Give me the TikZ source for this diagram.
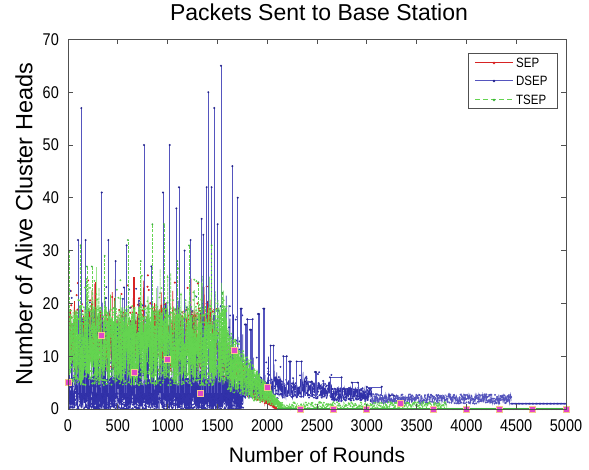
\documentclass[tikz,border=0pt]{standalone}
\usepackage{fontspec}
\usetikzlibrary{calc}
\setmainfont{Liberation Sans}
\newfontfamily\tickfont[FakeStretch=0.85]{Liberation Sans}
\definecolor{redc}{RGB}{215,35,35}
\definecolor{bluec}{RGB}{85,85,190}
\definecolor{blueband}{RGB}{50,50,170}
\definecolor{bluedot}{RGB}{35,35,140}
\definecolor{greenc}{RGB}{100,212,80}
\definecolor{greendot}{RGB}{60,175,60}
\definecolor{sqfill}{RGB}{225,70,200}
\definecolor{sqedge}{RGB}{245,200,140}
\definecolor{axisc}{RGB}{80,80,80}
\begin{document}
\begin{tikzpicture}[x=1pt,y=1pt,
  declare function={
    redf(\x)=(\x<1500)?(7+12*rnd+(rnd<0.15)*rnd*7):((\x<2100)?((2100-\x)/600*(5+10*rnd)):0);
    bluea(\x)=6*rnd^1.3+(rnd<0.15)*(4+14*rnd^1.5);
    blueb(\x)=(\x<2150)?(2+4*rnd+(rnd<0.2)*5*rnd):((\x<2650)?(2+3*rnd+(rnd<0.15)*3*rnd):(1.5+2.5*rnd));
    bluec(\x)=1+1.8*rnd;
    greena(\x)=(\x<1600)?(4.5+15*rnd^1.1+(rnd<0.12)*rnd*8):((2150-\x)/550*(3+12*rnd)+0.8*rnd);
    greenb(\x)=(\x<3800)?(1.3*rnd):0;
  },
  redline/.style={draw=redc,line width=0.6pt},
  blueline/.style={draw=bluec,line width=0.6pt},
  bandline/.style={draw=blueband,line width=0.6pt},
  greenline/.style={draw=greenc,line width=0.6pt,dash pattern=on 3pt off 1.2pt},
  axisline/.style={draw=axisc,line width=0.8pt},
  ticklab/.style={font=\tickfont\fontsize{17}{17}\selectfont,inner sep=0pt},
  labfont/.style={font=\fontsize{21}{21}\selectfont,inner sep=0pt},
  legfont/.style={font=\tickfont\fontsize{13.5}{13.5}\selectfont,inner sep=0pt,anchor=west},
  sqmark/.style={fill=sqfill,draw=sqedge,line width=0.9pt}
]
\useasboundingbox (0,0) rectangle (589,470);
\fill[white] (0,0) rectangle (589,470);
\pgfmathsetseed{4242}
% data
\begin{scope}[shift={(68,61)},x=0.0996pt,y=5.28pt]
  \clip (0,-0.3) rectangle (5000,70);
  % SEP
  \draw[redline] plot[domain=0:2100,samples=700,mark=*,mark size=0.7pt,mark options={draw=none,fill=redc}] (\x,{redf(\x)});
  \draw[redline] (2100,0) -- (5000,0);
  \foreach \r/\v in {67/20.4,240/20,278/24,468/21,663/25,870/20,975/20}{
    \draw[redline,line width=1.4pt] (\r,12) -- (\r,\v);
  }
  % DSEP
  \draw[bandline] plot[domain=0:1760,samples=1400,mark=*,mark size=0.6pt,mark options={draw=none,fill=bluedot}] (\x,{bluea(\x)});
  \draw[bandline] plot[domain=1760:3050,samples=450,mark=*,mark size=0.6pt,mark options={draw=none,fill=bluedot}] (\x,{blueb(\x)});
  \draw[blueline] plot[domain=3050:4450,samples=260,mark=*,mark size=0.6pt,mark options={draw=none,fill=bluedot}] (\x,{bluec(\x)});
  \draw[bandline] plot[domain=4450:5000,samples=40,mark=*,mark size=0.6pt,mark options={draw=none,fill=bluedot}] (\x,1);
  \foreach \r/\v in {100/32,134/57,177/32,338/41,405/32,478/28,562/23,589/31,763/50,837/27,954/41,1021/50,1088/38,1114/42,1171/30,1231/32,1342/36,1359/33,1392/42,1409/60,1442/42,1469/57,1503/35,1536/65,1650/46,1704/40}{
    \draw[blueline] (\r,3) -- (\r,\v);
    \fill[bluedot] (\r,\v) circle[radius=1.1pt];
  }
  \foreach \r/\v/\w in {1734/19/10,1777/16/10,1800/17/54,1827/15/10,1908/18/10,1961/19/10,2035/12/30,2162/10/34,2222/9/15,2296/9/50,2380/5.2/67,2480/7/10,2630/6/117,2850/5/60,3000/4.2/150,3233/2.5/40}{
    \draw[blueline] (\r,2.5) |- (\r+\w,\v) -- (\r+\w,2.5);
    \fill[bluedot] (\r,\v) circle[radius=1.1pt] (\r+\w,\v) circle[radius=1.1pt];
  }
  % TSEP
  \draw[greenline] plot[domain=0:2150,samples=1700,mark=*,mark size=0.6pt,mark options={solid,draw=none,fill=greendot}] (\x,{greena(\x)});
  \draw[greenline] plot[domain=2150:5000,samples=300,mark=*,mark size=0.6pt,mark options={solid,draw=none,fill=greendot}] (\x,{greenb(\x)});
  \draw[draw=greendot,line width=1pt] (2100,0) -- (5000,0);
  \foreach \r/\v in {10/30,127/31,190/27,240/27,368/29,602/32,730/28,847/35,964/35,1097/28,1215/31,1310/24,1442/31,1550/22}{
    \draw[greenline] (\r,8) -- (\r,\v);
    \fill[greendot] (\r,\v) circle[radius=1pt];
  }
\end{scope}
\begin{scope}[shift={(68,61)},x=0.0996pt,y=5.28pt]
  \foreach \r/\v in {0/5,333/14,667/7,1000/9.3,1333/3,1667/11,2000/4,2333/0,2667/0,3000/0,3333/1.1,3667/0,4000/0,4333/0,4667/0,5000/0}{
    \filldraw[sqmark] (\r,\v) ++(-3pt,-3pt) rectangle ++(6pt,6pt);
  }
\end{scope}
% axes
\draw[axisline] (68,61) rectangle (566,430.6);
\foreach \i in {0,...,10}{
  \pgfmathsetmacro{\X}{68+49.8*\i}
  \pgfmathtruncatemacro{\lab}{500*\i}
  \draw[axisline] (\X,61) -- ++(0,5);
  \draw[axisline] (\X,430.6) -- ++(0,-5);
  \node[ticklab] (xt\i) at (\X,44) {\lab};
}
\foreach \i in {0,...,7}{
  \pgfmathsetmacro{\Y}{61+52.8*\i}
  \pgfmathtruncatemacro{\lab}{10*\i}
  \draw[axisline] (68,\Y) -- ++(5,0);
  \draw[axisline] (566,\Y) -- ++(-5,0);
  \node[ticklab,anchor=east] (yt\i) at (59,\Y) {\lab};
}
% labels
\node[labfont,font=\fontsize{23}{23}\selectfont] (title) at (319,458) {Packets Sent to Base Station};
\node[labfont] (xlabel) at (317,15) {Number of Rounds};
\node[labfont,font=\fontsize{23.5}{23.5}\selectfont,rotate=90] (ylabel) at (24,246) {Number of Alive Cluster Heads};
% legend
\draw[axisline,fill=white] (468,362) rectangle (557,417);
\coordinate (l1a) at (475,407); \coordinate (l1b) at (513,407);
\coordinate (l2a) at (475,389); \coordinate (l2b) at (513,389);
\coordinate (l3a) at (475,370); \coordinate (l3b) at (513,370);
\draw[redline,line width=1pt] (l1a) -- (l1b);
\fill[redc] ($(l1a)!0.5!(l1b)$) circle[radius=1.4pt];
\draw[blueline,line width=1pt] (l2a) -- (l2b);
\fill[bluedot] ($(l2a)!0.5!(l2b)$) circle[radius=1.4pt];
\draw[greenline,line width=1pt,dash pattern=on 5pt off 3pt] (l3a) -- (l3b);
\fill[greendot] ($(l3a)!0.5!(l3b)$) circle[radius=1.4pt];
\node[legfont] (leg1) at (516,407) {SEP};
\node[legfont] (leg2) at (516,389) {DSEP};
\node[legfont] (leg3) at (516,370) {TSEP};
\end{tikzpicture}
\end{document}
